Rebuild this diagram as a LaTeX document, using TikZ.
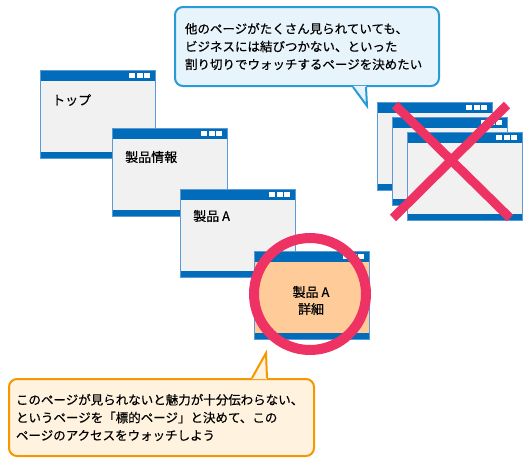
\documentclass[tikz,border=0pt]{standalone}
\usepackage{fontspec}
\setmainfont[FakeBold=0.5]{Noto Sans CJK JP}
\definecolor{winblue}{RGB}{0,108,186}
\definecolor{winborder}{RGB}{90,155,215}
\definecolor{wingray}{RGB}{241,241,241}
\definecolor{winorange}{RGB}{255,204,153}
\definecolor{pinkred}{RGB}{238,50,100}
\definecolor{cbborder}{RGB}{40,155,215}
\definecolor{cbfill}{RGB}{232,244,251}
\definecolor{coborder}{RGB}{245,152,0}
\definecolor{cofill}{RGB}{255,242,223}
\begin{document}
\begin{tikzpicture}[x=1pt,y=-1pt,
  pagewin/.style={draw=winborder, line width=0.8pt, fill=#1, minimum width=115pt, minimum height=88pt,
    anchor=north west, inner sep=0pt, outer sep=0pt,
    path picture={
      \fill[winblue] (path picture bounding box.north west) rectangle ([yshift=-11pt]path picture bounding box.north east);
      \fill[winblue] (path picture bounding box.south west) rectangle ([yshift=6.5pt]path picture bounding box.south east);
      \fill[white] ([xshift=-26pt,yshift=-3pt]path picture bounding box.north east) rectangle ++(6pt,-5pt);
      \fill[white] ([xshift=-18.5pt,yshift=-3pt]path picture bounding box.north east) rectangle ++(6pt,-5pt);
      \fill[white] ([xshift=-11pt,yshift=-3pt]path picture bounding box.north east) rectangle ++(6pt,-5pt);
    }},
  pagewin/.default=wingray,
  wintext/.style={font=\fontsize{13}{17}\selectfont, inner sep=0pt, anchor=west},
  calltext/.style={font=\fontsize{12.5}{17.8}\selectfont, align=left, anchor=north west, rounded corners=8pt, line width=2pt}
]
\useasboundingbox (0,0) rectangle (530,463);
% left chain of pages
\node[pagewin] (w1) at (40,70) {};
\node[wintext] (t1) at ([xshift=12pt,yshift=-30pt]w1.north west) {トップ};
\node[pagewin] (w2) at (112,128) {};
\node[wintext] (t2) at ([xshift=13pt,yshift=-29pt]w2.north west) {製品情報};
\node[pagewin] (w3) at (180,189) {};
\node[wintext] (t3) at ([xshift=13pt,yshift=-27pt]w3.north west) {製品 A};
\node[pagewin=winorange] (w4) at (254,251) {};
\draw[pinkred, line width=10pt] (310,294) circle[radius=56];
\node[font=\fontsize{13}{17}\selectfont, align=center, inner sep=0pt] (t4) at (311,300.5) {製品 A\\詳細};
% right stack of pages
\node[pagewin] (r1) at (377,102) {};
\node[pagewin] (r2) at (392,117) {};
\node[pagewin] (r3) at (407,132) {};
\coordinate (xa) at (395,105);
\coordinate (xb) at (510,218);
\coordinate (xc) at (507,105);
\coordinate (xd) at (393,218);
\draw[pinkred, line width=9pt] (xa) -- (xb) (xc) -- (xd);
% top callout
\node[calltext, draw=cbborder, fill=cbfill, text width=244pt, inner xsep=10pt, minimum height=79pt] (cb) at (174,6)
  {他のページがたくさん見られていても、\\ビジネスには結びつかない、といった\\割り切りでウォッチするページを決めたい};
\coordinate (cbtip) at (367,106);
\fill[cbfill] ([xshift=179pt,yshift=1.2pt]cb.south west) -- (cbtip) -- ([xshift=192pt,yshift=1.2pt]cb.south west) -- cycle;
\draw[cbborder, line width=2pt, line join=miter] ([xshift=179pt]cb.south west) -- (cbtip) -- ([xshift=192pt]cb.south west);
% bottom callout
\node[calltext, draw=coborder, fill=cofill, text width=291pt, inner xsep=7pt, minimum height=77pt] (co) at (8,378)
  {このページが見られないと魅力が十分伝わらない、\\というページを「標的ページ」と決めて、この\\ページのアクセスをウォッチしよう};
\coordinate (cotip) at (266,353);
\fill[cofill] ([xshift=244pt,yshift=-1.2pt]co.north west) -- (cotip) -- ([xshift=259pt,yshift=-1.2pt]co.north west) -- cycle;
\draw[coborder, line width=2pt, line join=miter] ([xshift=244pt]co.north west) -- (cotip) -- ([xshift=259pt]co.north west);
\end{tikzpicture}
\end{document}
